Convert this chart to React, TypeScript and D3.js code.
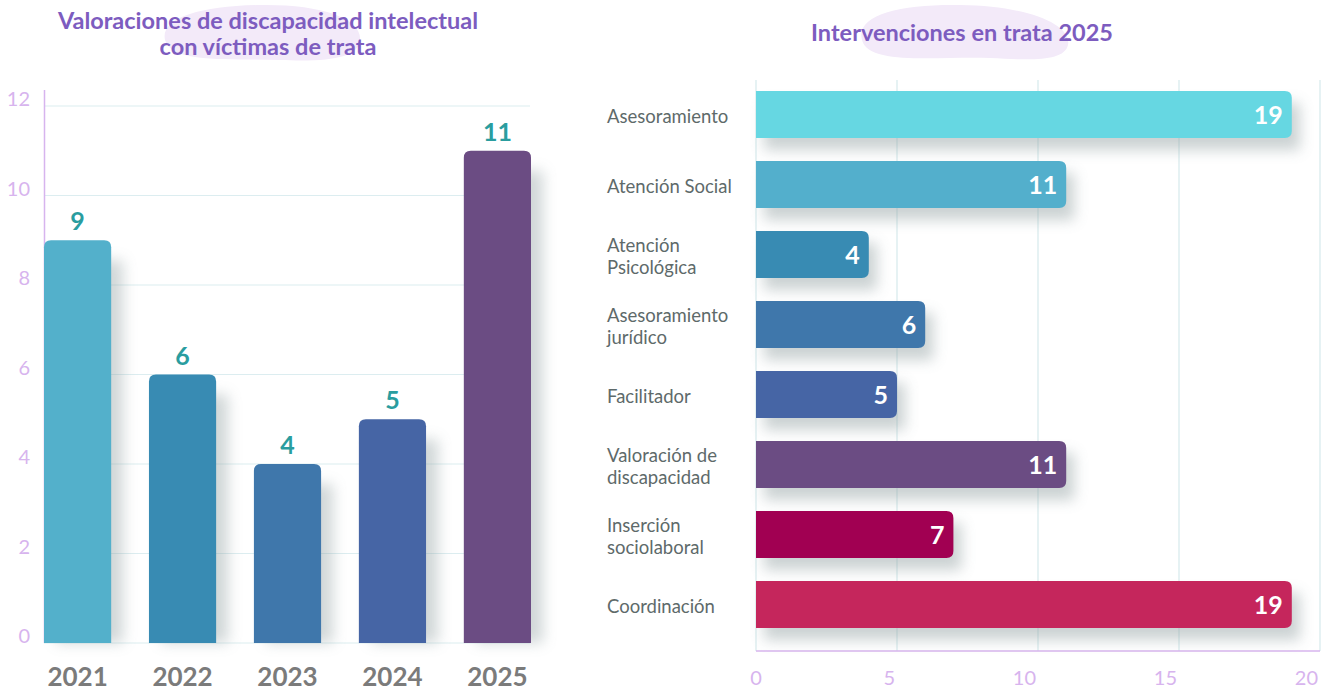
import React from "react";
import * as d3 from "d3";

const years = ["2021", "2022", "2023", "2024", "2025"];
const yearValues = [9, 6, 4, 5, 11];
const yearColors = ["#53b0cb", "#388bb3", "#3f77ab", "#4665a5", "#6b4c83"];
const yTicks = [0, 2, 4, 6, 8, 10, 12];

const categories = [
  ["Asesoramiento"],
  ["Atención Social"],
  ["Atención", "Psicológica"],
  ["Asesoramiento", "jurídico"],
  ["Facilitador"],
  ["Valoración de", "discapacidad"],
  ["Inserción", "sociolaboral"],
  ["Coordinación"],
];
const catValues = [19, 11, 4, 6, 5, 11, 7, 19];
const catColors = ["#66d7e2", "#53afcc", "#388bb3", "#3f77ab", "#4665a5", "#6b4c83", "#a10052", "#c5265c"];
const xTicks = [0, 5, 10, 15, 20];

const FONT = "Lato, 'Noto Sans', sans-serif";
const TITLE = "#7d5cbf";

function topRounded(x: number, y: number, w: number, h: number, r: number) {
  return `M${x},${y + h}V${y + r}Q${x},${y} ${x + r},${y}H${x + w - r}Q${x + w},${y} ${x + w},${y + r}V${y + h}Z`;
}
function rightRounded(x: number, y: number, w: number, h: number, r: number) {
  return `M${x},${y}H${x + w - r}Q${x + w},${y} ${x + w},${y + r}V${y + h - r}Q${x + w},${y + h} ${x + w - r},${y + h}H${x}Z`;
}

export default function App() {
  const yL = d3.scaleLinear().domain([0, 12]).range([643, 106]);
  const xL = d3.scaleBand<string>().domain(years).range([44, 531]).paddingInner(0.36).paddingOuter(0);

  const xR = d3.scaleLinear().domain([0, 20]).range([756, 1320]);
  const idx = categories.map((_, i) => String(i));
  const yR = d3.scaleBand<string>().domain(idx).range([79.5, 639.5]).paddingInner(0.33).paddingOuter(0.165);

  return (
    <svg width={1335} height={691} style={{ position: "absolute", left: 0, top: 0, background: "#fff" }} fontFamily={FONT}>
      <defs>
        <filter id="blur" x="-50%" y="-50%" width="200%" height="200%">
          <feGaussianBlur stdDeviation="7" />
        </filter>
      </defs>

      <path d="M165,40 C160,18 200,6 260,5 C320,4 362,18 360,40 C358,58 330,62 280,60 C230,58 172,64 165,40 Z" fill="#f3eaf9" />
      <path d="M862,40 C855,15 900,4 960,5 C1030,6 1072,25 1068,45 C1064,62 1030,60 990,58 C940,56 868,66 862,40 Z" fill="#f3eaf9" />

      <text x={268} y={29} textAnchor="middle" fontSize={23.5} fontWeight={700} fill={TITLE}>Valoraciones de discapacidad intelectual</text>
      <text x={268} y={55} textAnchor="middle" fontSize={23.5} fontWeight={700} fill={TITLE}>con víctimas de trata</text>
      <text x={962} y={41} textAnchor="middle" fontSize={23.5} fontWeight={700} fill={TITLE}>Intervenciones en trata 2025</text>

      {yTicks.map((t) => (
        <g key={t}>
          <line x1={44} x2={530} y1={yL(t)} y2={yL(t)} stroke="#dcedf0" strokeWidth={1.2} />
          <text x={30} y={yL(t) - 7} dy="0.35em" textAnchor="end" fontSize={20} fill="#d7b4ee">{t}</text>
        </g>
      ))}
      <line x1={44.5} x2={44.5} y1={90} y2={643} stroke="#d7b4ee" strokeWidth={1.5} />

      {years.map((yr, i) => {
        const x = xL(yr)!;
        const w = xL.bandwidth();
        const y = yL(yearValues[i]);
        return <rect key={"s" + yr} x={x + 12} y={y + 20} width={w} height={643 - y - 20} fill="#8d9c9e" opacity={0.4} filter="url(#blur)" />;
      })}
      {years.map((yr, i) => {
        const x = xL(yr)!;
        const w = xL.bandwidth();
        const y = yL(yearValues[i]);
        return (
          <g key={yr}>
            <path d={topRounded(x, y, w, 643 - y, 7)} fill={yearColors[i]} />
            <text x={x + w / 2} y={y - 10} textAnchor="middle" fontSize={25} fontWeight={700} fill="#2a9d9f">{yearValues[i]}</text>
            <text x={x + w / 2} y={686} textAnchor="middle" fontSize={26} fontWeight={700} fill="#7b7b7b">{yr}</text>
          </g>
        );
      })}

      {xTicks.map((t) => (
        <g key={t}>
          <line x1={xR(t)} x2={xR(t)} y1={80} y2={651} stroke="#d6e9ec" strokeWidth={1.2} />
          <text x={t === 0 ? xR(t) : xR(t) - 2} y={678} dy="0.35em" textAnchor={t === 0 ? "middle" : "end"} fontSize={20} fill="#d7b4ee">{t}</text>
        </g>
      ))}
      <line x1={756} x2={1320} y1={651} y2={651} stroke="#d7b4ee" strokeWidth={1.5} />

      {categories.map((c, i) => {
        const y = yR(String(i))!;
        const h = yR.bandwidth();
        return <rect key={"rs" + i} x={756 + 8} y={y + 12} width={xR(catValues[i]) - 756} height={h} fill="#8d9c9e" opacity={0.45} filter="url(#blur)" />;
      })}
      {categories.map((c, i) => {
        const y = yR(String(i))!;
        const h = yR.bandwidth();
        const w = xR(catValues[i]) - 756;
        const cy = y + h / 2;
        return (
          <g key={"r" + i}>
            <path d={rightRounded(756, y, w, h, 7)} fill={catColors[i]} />
            <text x={756 + w - 9} y={cy} dy="0.36em" textAnchor="end" fontSize={25} fontWeight={700} fill="#fff">{catValues[i]}</text>
            {c.map((line, k) => (
              <text key={k} x={607} y={cy + 2 + (k - (c.length - 1) / 2) * 22} dy="0.35em" fontSize={18.5} fill="#5e6a6a">{line}</text>
            ))}
          </g>
        );
      })}
    </svg>
  );
}
